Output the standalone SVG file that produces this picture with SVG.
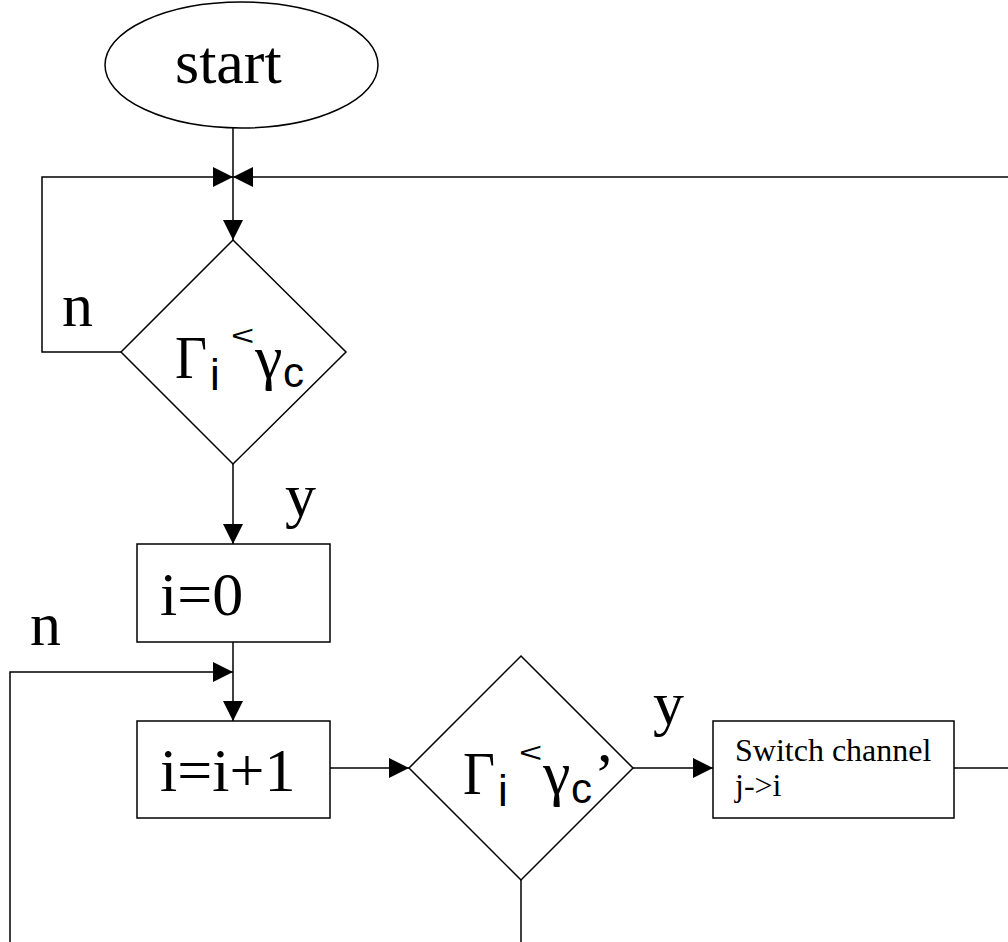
<svg xmlns="http://www.w3.org/2000/svg" width="1008" height="942" viewBox="0 0 1008 942">
<defs>
<style>
.shape{fill:#fff;stroke:#000;stroke-width:1.5}
.edge{fill:none;stroke:#000;stroke-width:1.5}
.serif{font-family:"Liberation Serif","Times New Roman",serif;fill:#000}
.sans{font-family:"Liberation Sans",Arial,sans-serif;fill:#000}
</style>
<marker id="arr" markerUnits="userSpaceOnUse" markerWidth="20" markerHeight="20" viewBox="0 0 20 20" refX="20" refY="10" orient="auto">
<path d="M0,0 L20,10 L0,20 Z" fill="#000"/>
</marker>
</defs>
<rect width="1008" height="942" fill="#fff"/>
<g id="connectors">
<path class="edge" d="M233,128 L233,240" marker-end="url(#arr)"/>
<path class="edge" d="M122,352 L42,352 L42,177 L233,177" marker-end="url(#arr)"/>
<path class="edge" d="M1008,177 L233,177" marker-end="url(#arr)"/>
<path class="edge" d="M233,463 L233,544" marker-end="url(#arr)"/>
<path class="edge" d="M233,642 L233,721" marker-end="url(#arr)"/>
<path class="edge" d="M10,942 L10,672 L233,672" marker-end="url(#arr)"/>
<path class="edge" d="M330,768 L409,768" marker-end="url(#arr)"/>
<path class="edge" d="M633,768 L713,768" marker-end="url(#arr)"/>
<path class="edge" d="M954,768 L1008,768"/>
<path class="edge" d="M521,880 L521,942"/>
<text class="serif" x="62" y="326" font-size="62">n</text>
<text class="serif" x="285" y="516" font-size="62">y</text>
<text class="serif" x="30" y="645" font-size="62">n</text>
<text class="serif" x="653" y="724" font-size="62">y</text>
</g>
<g id="start">
<ellipse class="shape" cx="241.5" cy="65" rx="136.5" ry="63"/>
<text class="serif" x="175" y="83" font-size="62">start</text>
</g>
<g id="decision1">
<polygon class="shape" points="233,240 346,352 233,464 121,352"/>
<text class="serif" x="175" y="378" font-size="62" textLength="32" lengthAdjust="spacingAndGlyphs">Γ</text>
<text class="sans" x="210" y="390" font-size="44">i</text>
<text class="sans" transform="translate(231,345) scale(1.05,0.75)" font-size="38">&lt;</text>
<text class="serif" x="255" y="378" font-size="62">γ</text>
<text class="sans" x="283" y="387" font-size="42">c</text>
</g>
<g id="init">
<rect class="shape" x="137" y="544" width="193" height="98"/>
<text class="serif" x="160" y="615" font-size="62">i=0</text>
</g>
<g id="increment">
<rect class="shape" x="137" y="721" width="193" height="97"/>
<text class="serif" x="160" y="791" font-size="62">i=i+1</text>
</g>
<g id="decision2">
<polygon class="shape" points="521,656 633,768 521,880 409,768"/>
<text class="serif" x="463" y="794" font-size="62" textLength="32" lengthAdjust="spacingAndGlyphs">Γ</text>
<text class="sans" x="498" y="806" font-size="44">i</text>
<text class="sans" transform="translate(519,762) scale(1.05,0.75)" font-size="38">&lt;</text>
<text class="serif" x="543" y="794" font-size="62">γ</text>
<text class="sans" x="571" y="803" font-size="42">c</text>
<text class="serif" x="594" y="795" font-size="62">’</text>
</g>
<g id="switch">
<rect class="shape" x="713" y="721" width="241" height="97"/>
<text class="serif" x="735" y="761" font-size="32">Switch channel</text>
<text class="serif" x="735" y="796" font-size="32">j-&gt;i</text>
</g>
</svg>
